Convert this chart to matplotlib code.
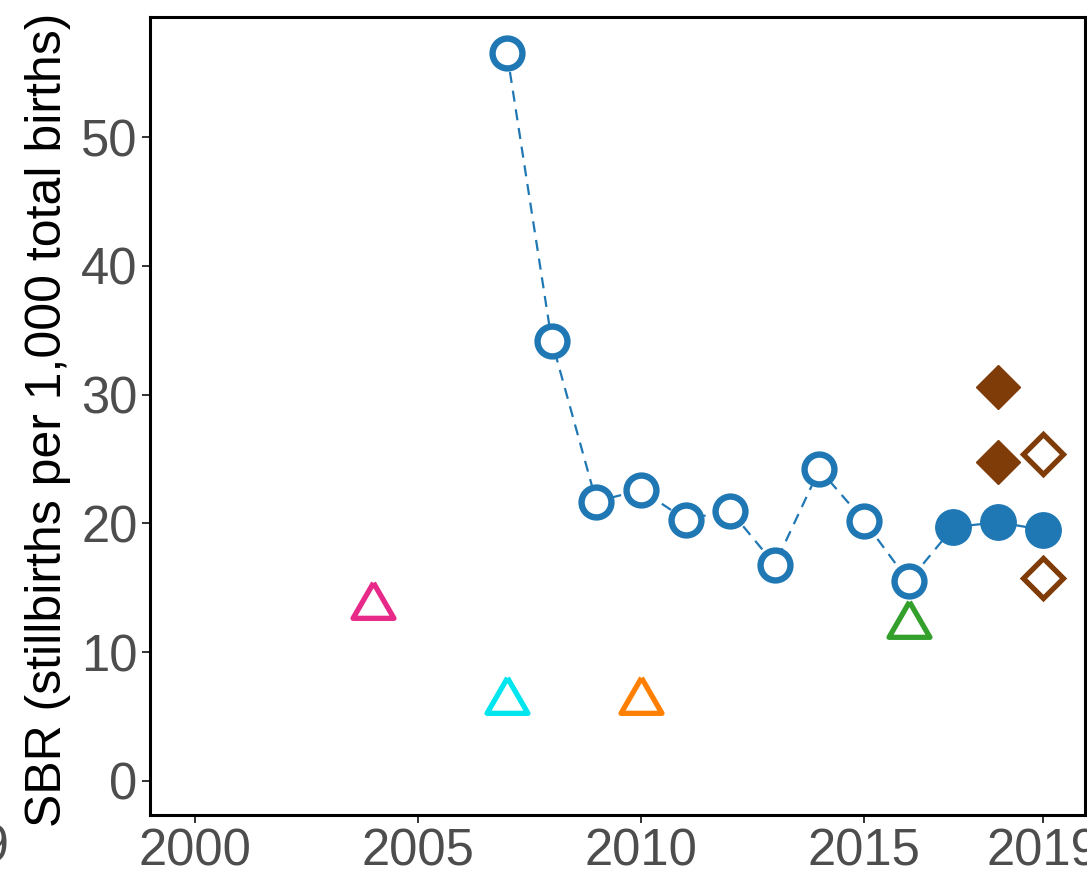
import matplotlib
matplotlib.use("Agg")
import matplotlib.pyplot as plt

plt.rcParams['font.family'] = ['Liberation Sans', 'DejaVu Sans']

# данные
years_open = [2007, 2008, 2009, 2010, 2011, 2012, 2013, 2014, 2015, 2016]
sbr_open = [56.5, 34.2, 21.7, 22.6, 20.3, 21.0, 16.8, 24.2, 20.2, 15.5]

years_filled = [2017, 2018, 2019]
sbr_filled = [19.7, 20.1, 19.5]

diam_filled_years = [2018, 2018]
diam_filled_sbr = [30.6, 24.8]
diam_open_years = [2019, 2019]
diam_open_sbr = [25.4, 15.8]

tri_years = [2004, 2007, 2010, 2016]
tri_sbr = [13.6, 6.2, 6.2, 12.1]
tri_colors = ['#E7298A', '#00E5EE', '#FF7F00', '#33A02C']

xticks = [2000, 2005, 2010, 2015, 2019]
yticks = [0, 10, 20, 30, 40, 50]

blue = '#1F78B4'
brown = '#7F3B08'

W, H = 1087, 877
fig = plt.figure(figsize=(W / 100, H / 100), dpi=100)
ax = fig.add_axes([150 / W, (H - 815) / H, (1085 - 150) / W, (815 - 17) / H])

# пунктир от открытых точек до первой закрашенной
ax.plot(years_open + years_filled[:1], sbr_open + sbr_filled[:1], color=blue,
        lw=1.6, ls=(0, (5, 3.5)), zorder=1)
ax.plot(years_filled, sbr_filled, color=blue, lw=1.6, zorder=1)

ax.plot(years_open, sbr_open, ls='none', marker='o', ms=21.5, mfc='white',
        mec=blue, mew=4.6, zorder=3)
ax.plot(years_filled, sbr_filled, ls='none', marker='o', ms=25.5, mfc=blue,
        mec=blue, mew=1, zorder=3)

ax.plot(diam_filled_years, diam_filled_sbr, ls='none', marker='D', ms=22.5,
        mfc=brown, mec=brown, mew=1, zorder=3)
ax.plot(diam_open_years, diam_open_sbr, ls='none', marker='D', ms=20.5,
        mfc='white', mec=brown, mew=3.8, zorder=3)

tri = [(0, 0.577), (-0.5, -0.289), (0.5, -0.289), (0, 0.577)]
for x, y, c in zip(tri_years, tri_sbr, tri_colors):
    ax.plot([x], [y], ls='none', marker=tri, ms=34, mfc='white', mec=c,
            mew=3.8, zorder=3)

ax.set_xlim(1999.0, 2019.95)
ax.set_ylim(-2.64, 59.32)
ax.set_xticks(xticks)
ax.set_yticks(yticks)
ax.tick_params(labelsize=36.5, labelcolor='#4D4D4D', color='#333333',
               length=6, width=1.4, pad=3)

for s in ax.spines.values():
    s.set_linewidth(2.2)
    s.set_color('black')

fig.text(48 / W, (H - 420) / H, 'SBR (stillbirths per 1,000 total births)',
         rotation=90, ha='center', va='center', fontsize=36, color='black')

# кусок соседней панели слева
fig.text(9 / W, (H - 823) / H, '2019', ha='right', va='top', fontsize=36.5,
         color='#4D4D4D')

fig.savefig('out.png', dpi=100)
